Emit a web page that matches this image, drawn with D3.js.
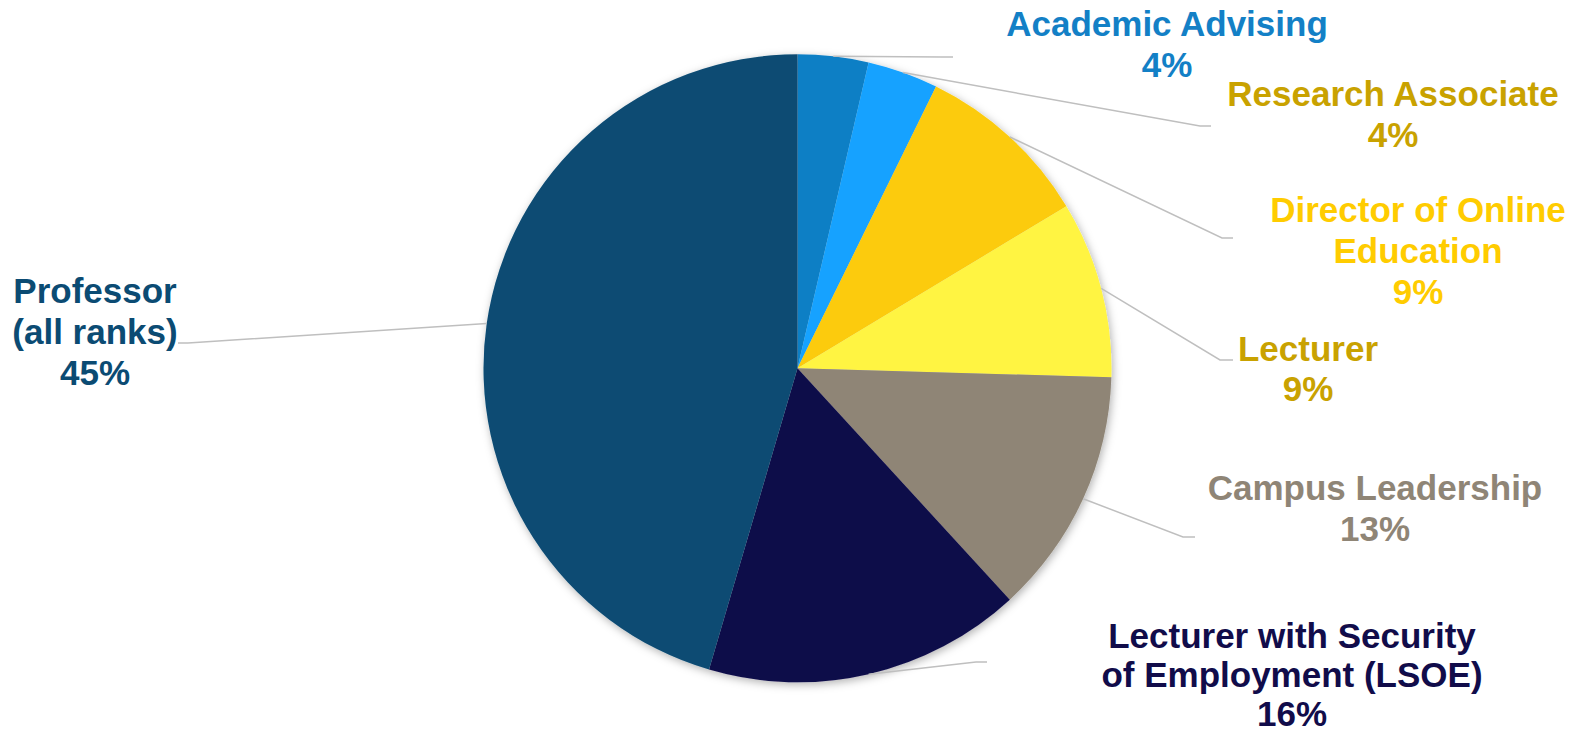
<!DOCTYPE html>
<html>
<head>
<meta charset="utf-8">
<script src="https://cdn.jsdelivr.net/npm/d3@7"></script>
<style>
  html, body { margin: 0; padding: 0; background: #ffffff; overflow: hidden; }
  svg { display: block; }
</style>
</head>
<body>
<svg id="chart" width="1581" height="734"></svg>
<script>
// Position types held by respondents (counts), in clockwise order from 12 o'clock
const categories = [
  "Academic Advising",
  "Research Associate",
  "Director of Online Education",
  "Lecturer",
  "Campus Leadership",
  "Lecturer with Security of Employment (LSOE)",
  "Professor (all ranks)"
];
const counts = [2, 2, 5, 5, 7, 9, 25];

// Slice fills and label text colours
const sliceColors = ["#117fc5", "#14a2ff", "#fccb0c", "#fff442", "#8f8576", "#110c4a", "#0b4b73"];
const labelColors = ["#1380c6", "#c9a200", "#ffcc00", "#c9a200", "#8f8576", "#110c4a", "#0b4b73"];

// Label placement: text centre x, first baseline y, line gap, wrap width,
// and the leader line's elbow and end points
const labelLayout = [
  { x: 1167, y: 36,  gap: 41, wrap: 400, elbow: [942, 57],    end: [953, 57] },
  { x: 1393, y: 106, gap: 41, wrap: 400, elbow: [1200, 126],  end: [1211, 126] },
  { x: 1418, y: 222, gap: 41, wrap: 400, elbow: [1222, 238],  end: [1233, 238] },
  { x: 1308, y: 361, gap: 40, wrap: 400, elbow: [1220, 360],  end: [1233, 360] },
  { x: 1375, y: 500, gap: 41, wrap: 400, elbow: [1183, 537],  end: [1195, 537] },
  { x: 1292, y: 648, gap: 39, wrap: 400, elbow: [976, 662],   end: [987, 662] },
  { x: 95,   y: 303, gap: 41, wrap: 180, elbow: [188, 343],   end: [178, 343] }
];

const cx = 797.5, cy = 368.3, radius = 314;
const fontSize = 35;
const fontFamily = "'Liberation Sans', Arial, sans-serif";

const svg = d3.select("#chart");

// soft outer shadow under the pie
const defs = svg.append("defs");
const shadow = defs.append("filter")
  .attr("id", "pieShadow")
  .attr("x", "-10%").attr("y", "-10%")
  .attr("width", "120%").attr("height", "120%");
shadow.append("feDropShadow")
  .attr("dx", 1.5).attr("dy", 2.5)
  .attr("stdDeviation", 4)
  .attr("flood-color", "#000")
  .attr("flood-opacity", 0.3);

const total = d3.sum(counts);
const rows = categories.map((name, i) => ({
  name,
  value: counts[i],
  pct: Math.round(counts[i] / total * 100) + "%",
  fill: sliceColors[i],
  labelColor: labelColors[i],
  layout: labelLayout[i]
}));

const pie = d3.pie().value(d => d.value).sort(null).startAngle(0).endAngle(2 * Math.PI);
const arcs = pie(rows);

const arc = d3.arc().innerRadius(0).outerRadius(radius);
const rimArc = d3.arc().innerRadius(radius).outerRadius(radius);

const g = svg.append("g").attr("transform", `translate(${cx},${cy})`);

// slices
g.append("g")
  .attr("filter", "url(#pieShadow)")
  .selectAll("path")
  .data(arcs)
  .join("path")
  .attr("d", arc)
  .attr("fill", d => d.data.fill);

// leader lines from each slice's rim to its label
const line = d3.line();
svg.append("g")
  .selectAll("path")
  .data(arcs)
  .join("path")
  .attr("d", d => {
    const [px, py] = rimArc.centroid(d);
    return line([[cx + px, cy + py], d.data.layout.elbow, d.data.layout.end]);
  })
  .attr("fill", "none")
  .attr("stroke", "#bfbfbf")
  .attr("stroke-width", 1.5);

// word-wrap helper using rendered text widths
const measure = svg.append("text")
  .attr("font-family", fontFamily)
  .attr("font-weight", "bold")
  .attr("font-size", fontSize)
  .attr("visibility", "hidden");
function textWidth(s) {
  measure.text(s);
  return measure.node().getComputedTextLength();
}
function wrap(text, maxWidth) {
  const words = text.split(" ");
  const out = [];
  let cur = "";
  words.forEach(w => {
    const trial = cur ? cur + " " + w : w;
    if (cur && textWidth(trial) > maxWidth) {
      out.push(cur);
      cur = w;
    } else {
      cur = trial;
    }
  });
  if (cur) out.push(cur);
  return out;
}

// data labels: category name (wrapped) and percentage
const labels = svg.append("g")
  .selectAll("text")
  .data(arcs)
  .join("text")
  .attr("text-anchor", "middle")
  .attr("font-family", fontFamily)
  .attr("font-weight", "bold")
  .attr("font-size", fontSize)
  .attr("fill", d => d.data.labelColor);

labels.each(function(d) {
  const lay = d.data.layout;
  const lines = wrap(d.data.name, lay.wrap).concat([d.data.pct]);
  d3.select(this).selectAll("tspan")
    .data(lines)
    .join("tspan")
    .attr("x", lay.x)
    .attr("y", (s, i) => lay.y + i * lay.gap)
    .text(s => s);
});

measure.remove();
</script>
</body>
</html>
